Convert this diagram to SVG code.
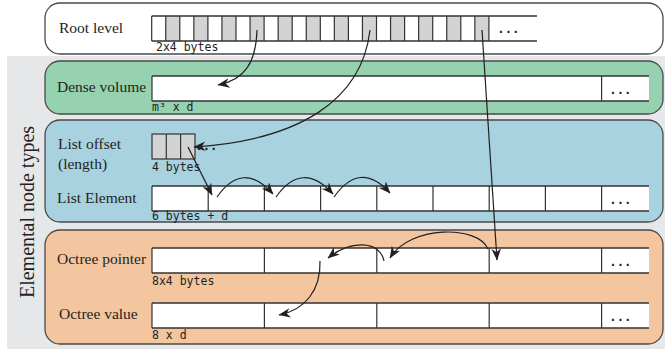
<svg xmlns="http://www.w3.org/2000/svg" width="665" height="351" viewBox="0 0 665 351">
<defs>
<style>
.box{stroke:#4a4a4a;stroke-width:1.3}
.lbl{font-family:"Liberation Serif","Times New Roman",serif;font-size:15.5px;fill:#231f20}
.mono{font-family:"DejaVu Sans Mono",monospace;font-size:11.5px;fill:#231f20}
.dots{font-family:"Liberation Sans",Arial,sans-serif;font-size:14px;font-weight:bold;fill:#231f20;letter-spacing:3.5px}
.bar{fill:#fff}
.ln{fill:none;stroke:#333;stroke-width:1.5}
.dv{fill:none;stroke:#333;stroke-width:1.2}
.cell{fill:#d1d3d4}
.arr{fill:none;stroke:#231f20;stroke-width:1.2;marker-end:url(#ah)}
</style>
<marker id="ah" viewBox="0 0 10 8" refX="9.5" refY="4" markerWidth="12" markerHeight="9.6" orient="auto" markerUnits="userSpaceOnUse"><path d="M0,0 L10,4 L0,8 L3,4 z" fill="#231f20"/></marker>
</defs>
<rect x="0" y="0" width="665" height="351" fill="#fff"/>
<rect x="7" y="56" width="658" height="293" fill="#e6e7e8"/>
<text class="lbl" style="font-size:20px" transform="translate(34,212) rotate(-90)" text-anchor="middle">Elemental node types</text>

<g id="root">
<rect class="box" x="45" y="3" width="618" height="51" rx="15" fill="#fff"/>
<text class="lbl" x="59" y="33">Root level</text>
<rect class="bar" x="151.7" y="16" width="385" height="25"/>
<g class="cell">
<rect x="165.75" y="16" width="14.05" height="25"/><rect x="193.85" y="16" width="14.05" height="25"/><rect x="221.95" y="16" width="14.05" height="25"/><rect x="250.05" y="16" width="14.05" height="25"/><rect x="278.15" y="16" width="14.05" height="25"/><rect x="306.25" y="16" width="14.05" height="25"/><rect x="334.35" y="16" width="14.05" height="25"/><rect x="362.45" y="16" width="14.05" height="25"/><rect x="390.55" y="16" width="14.05" height="25"/><rect x="418.65" y="16" width="14.05" height="25"/><rect x="446.75" y="16" width="14.05" height="25"/><rect x="474.85" y="16" width="14.05" height="25"/>
</g>
<path class="ln" d="M151.7,16H537M151.7,41H537"/>
<path class="dv" d="M151.7,16V41M165.75,16V41M179.8,16V41M193.85,16V41M207.9,16V41M221.95,16V41M236,16V41M250.05,16V41M264.1,16V41M278.15,16V41M292.2,16V41M306.25,16V41M320.3,16V41M334.35,16V41M348.4,16V41M362.45,16V41M376.5,16V41M390.55,16V41M404.6,16V41M418.65,16V41M432.7,16V41M446.75,16V41M460.8,16V41M474.85,16V41M488.9,16V41"/>
<text class="dots" x="499" y="33">...</text>
<text class="mono" x="156" y="51">2x4 bytes</text>
</g>

<g id="dense">
<rect class="box" x="45" y="61" width="618" height="53" rx="15" fill="#96d2b0"/>
<text class="lbl" x="57" y="92">Dense volume</text>
<rect class="bar" x="152" y="76" width="497" height="25"/>
<path class="ln" d="M152,76H649M152,101H649"/>
<path class="dv" d="M152,76V101M601.6,76V101"/>
<text class="dots" x="611" y="94">...</text>
<text class="mono" x="152" y="111">m³ x d</text>
</g>

<g id="list">
<rect class="box" x="45" y="120" width="618" height="102" rx="15" fill="#a8d2e0"/>
<text class="lbl" x="58" y="149">List offset</text>
<text class="lbl" x="58" y="169">(length)</text>
<rect class="cell" x="152" y="134" width="43" height="25" stroke="#333" stroke-width="1.2"/>
<path class="dv" d="M166.3,134V159M180.6,134V159"/>
<text class="dots" x="197" y="150">...</text>
<text class="mono" x="152" y="171">4 bytes</text>
<text class="lbl" x="57" y="203">List Element</text>
<rect class="bar" x="152" y="186" width="497" height="25"/>
<path class="ln" d="M152,186H649M152,211H649"/>
<path class="dv" d="M152,186V211M208.2,186V211M264.4,186V211M320.6,186V211M376.8,186V211M433,186V211M489.2,186V211M545.4,186V211M601.6,186V211"/>
<text class="dots" x="611" y="204">...</text>
<text class="mono" x="152" y="220">6 bytes + d</text>
</g>

<g id="octree">
<rect class="box" x="45" y="230" width="618" height="114" rx="15" fill="#f4c6a0"/>
<text class="lbl" x="57" y="264">Octree pointer</text>
<rect class="bar" x="152" y="248" width="497" height="25"/>
<path class="ln" d="M152,248H649M152,273H649"/>
<path class="dv" d="M152,248V273M264.4,248V273M376.8,248V273M489.2,248V273M601.6,248V273"/>
<text class="dots" x="611" y="266">...</text>
<text class="mono" x="152" y="285">8x4 bytes</text>
<text class="lbl" x="59" y="319">Octree value</text>
<rect class="bar" x="152" y="303" width="497" height="25"/>
<path class="ln" d="M152,303H649M152,328H649"/>
<path class="dv" d="M152,303V328M264.4,303V328M376.8,303V328M489.2,303V328M601.6,303V328"/>
<text class="dots" x="611" y="321">...</text>
<text class="mono" x="152" y="339">8 x d</text>
</g>

<g id="connectors">
<path class="arr" d="M257,30 C256,62 245,80 218,85"/>
<path class="arr" d="M370,30 C362,100 300,140 194,147"/>
<path class="arr" d="M482,30 L497,260"/>
<path class="arr" d="M188,147 L212,195"/>
<path class="arr" d="M217,197 Q243,160 273,194"/>
<path class="arr" d="M276,197 Q302,160 333,194"/>
<path class="arr" d="M334,197 Q360,160 390,193"/>
<path class="arr" d="M488,249 C478,225 410,225 390,258"/>
<path class="arr" d="M384,261 C380,240 350,240 328,258"/>
<path class="arr" d="M320,261 C321,290 305,310 279,315"/>
</g>
</svg>
